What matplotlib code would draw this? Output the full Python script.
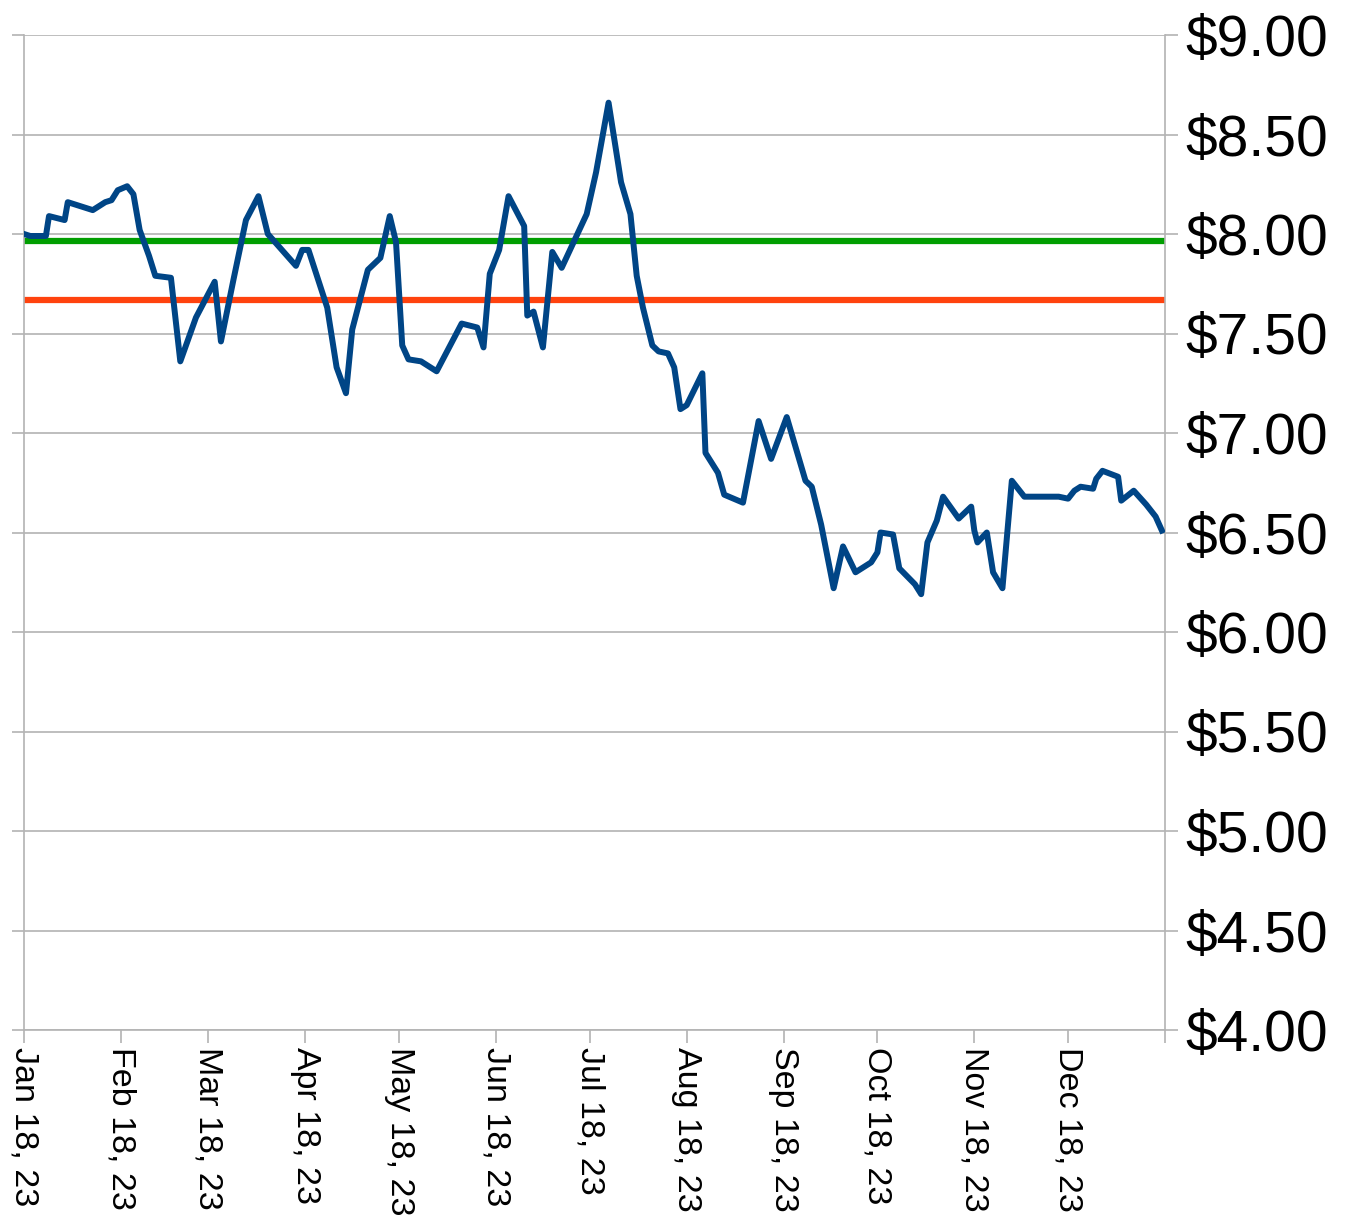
import matplotlib
matplotlib.use("Agg")
import matplotlib.pyplot as plt
import pandas as pd

plt.rcParams['font.family'] = ['Liberation Sans', 'DejaVu Sans']

dates = [
    "2023-01-18", "2023-01-20", "2023-01-25", "2023-01-26", "2023-01-31", "2023-02-01",
    "2023-02-09", "2023-02-13", "2023-02-15", "2023-02-17", "2023-02-20", "2023-02-22",
    "2023-02-24", "2023-02-27", "2023-03-01", "2023-03-06", "2023-03-09", "2023-03-14",
    "2023-03-16", "2023-03-20", "2023-03-22", "2023-03-26", "2023-03-30", "2023-04-03",
    "2023-04-06", "2023-04-15", "2023-04-17", "2023-04-19", "2023-04-25", "2023-04-28",
    "2023-05-01", "2023-05-03", "2023-05-08", "2023-05-12", "2023-05-15", "2023-05-17",
    "2023-05-19", "2023-05-21", "2023-05-25", "2023-05-30", "2023-06-07", "2023-06-12",
    "2023-06-14", "2023-06-16", "2023-06-19", "2023-06-22", "2023-06-27", "2023-06-28",
    "2023-06-30", "2023-07-03", "2023-07-06", "2023-07-09", "2023-07-17", "2023-07-20",
    "2023-07-24", "2023-07-28", "2023-07-31", "2023-08-02", "2023-08-04", "2023-08-07",
    "2023-08-09", "2023-08-12", "2023-08-14", "2023-08-16", "2023-08-18", "2023-08-23",
    "2023-08-24", "2023-08-28", "2023-08-30", "2023-09-05", "2023-09-10", "2023-09-14",
    "2023-09-19", "2023-09-25", "2023-09-27", "2023-09-30", "2023-10-04", "2023-10-07",
    "2023-10-11", "2023-10-16", "2023-10-18", "2023-10-19", "2023-10-23", "2023-10-25",
    "2023-10-30", "2023-11-01", "2023-11-03", "2023-11-06", "2023-11-08", "2023-11-13",
    "2023-11-17", "2023-11-18", "2023-11-19", "2023-11-22", "2023-11-24", "2023-11-27",
    "2023-11-30", "2023-12-04", "2023-12-15", "2023-12-18", "2023-12-20", "2023-12-22",
    "2023-12-26", "2023-12-27", "2023-12-29", "2024-01-03", "2024-01-04", "2024-01-08",
    "2024-01-12", "2024-01-15", "2024-01-17",
]
prices = [
    8.00, 7.99, 7.99, 8.09, 8.07, 8.16,
    8.12, 8.16, 8.17, 8.22, 8.24, 8.20,
    8.02, 7.89, 7.79, 7.78, 7.36, 7.58,
    7.64, 7.76, 7.46, 7.77, 8.07, 8.19,
    8.00, 7.84, 7.92, 7.92, 7.63, 7.33,
    7.20, 7.52, 7.82, 7.88, 8.09, 7.96,
    7.44, 7.37, 7.36, 7.31, 7.55, 7.53,
    7.43, 7.80, 7.92, 8.19, 8.04, 7.59,
    7.61, 7.43, 7.91, 7.83, 8.10, 8.31,
    8.66, 8.26, 8.10, 7.79, 7.63, 7.44,
    7.41, 7.40, 7.33, 7.12, 7.14, 7.30,
    6.90, 6.80, 6.69, 6.65, 7.06, 6.87,
    7.08, 6.76, 6.73, 6.54, 6.22, 6.43,
    6.30, 6.35, 6.40, 6.50, 6.49, 6.32,
    6.24, 6.19, 6.45, 6.56, 6.68, 6.57,
    6.63, 6.51, 6.45, 6.50, 6.30, 6.22,
    6.76, 6.68, 6.68, 6.67, 6.71, 6.73,
    6.72, 6.77, 6.81, 6.78, 6.66, 6.71,
    6.64, 6.58, 6.51,
]
upper_level = 7.965
lower_level = 7.67

tick_dates = ["2023-01-18", "2023-02-18", "2023-03-18", "2023-04-18", "2023-05-18",
              "2023-06-18", "2023-07-18", "2023-08-18", "2023-09-18", "2023-10-18",
              "2023-11-18", "2023-12-18", "2024-01-18"]
tick_labels = ["Jan 18, 23", "Feb 18, 23", "Mar 18, 23", "Apr 18, 23", "May 18, 23",
               "Jun 18, 23", "Jul 18, 23", "Aug 18, 23", "Sep 18, 23", "Oct 18, 23",
               "Nov 18, 23", "Dec 18, 23", ""]
y_ticks = [4.0, 4.5, 5.0, 5.5, 6.0, 6.5, 7.0, 7.5, 8.0, 8.5, 9.0]

x = pd.to_datetime(dates)
ticks = pd.to_datetime(tick_dates)

W, H = 1347, 1218
fig = plt.figure(figsize=(W / 100, H / 100), dpi=100)
ax = fig.add_axes([24 / W, 1 - 1030 / H, (1165 - 24) / W, (1030 - 35) / H])

grid_c = "#b3b3b3"
ax.set_xlim(ticks[0], ticks[-1])
ax.set_ylim(4.0, 9.0)
ax.set_yticks(y_ticks)
ax.yaxis.grid(True, color=grid_c, linewidth=1.2)
ax.set_axisbelow(True)

ax.axhline(upper_level, color="#009e00", linewidth=4.5, zorder=2)
ax.axhline(lower_level, color="#ff420e", linewidth=4.5, zorder=2)
ax.plot(x, prices, color="#004586", linewidth=4.3, zorder=3, solid_joinstyle="round")

for s in ax.spines.values():
    s.set_color(grid_c)
    s.set_linewidth(1.2)
ax.spines['top'].set_visible(False)

ax.set_xticks(ticks)
ax.set_xticklabels(tick_labels, rotation=-90, ha="center", va="top", fontsize=24.5)
ax.tick_params(axis='x', length=9, width=1.2, color=grid_c, pad=3, direction='out')
ax.yaxis.tick_right()
ax.tick_params(axis='y', which='both', left=True, right=True, length=9, width=1.2,
               color=grid_c, direction='out', pad=6, labelsize=41)
ax.set_yticklabels([f"${v:.2f}" for v in y_ticks])

fig.savefig("out.png", dpi=100, facecolor="white")
